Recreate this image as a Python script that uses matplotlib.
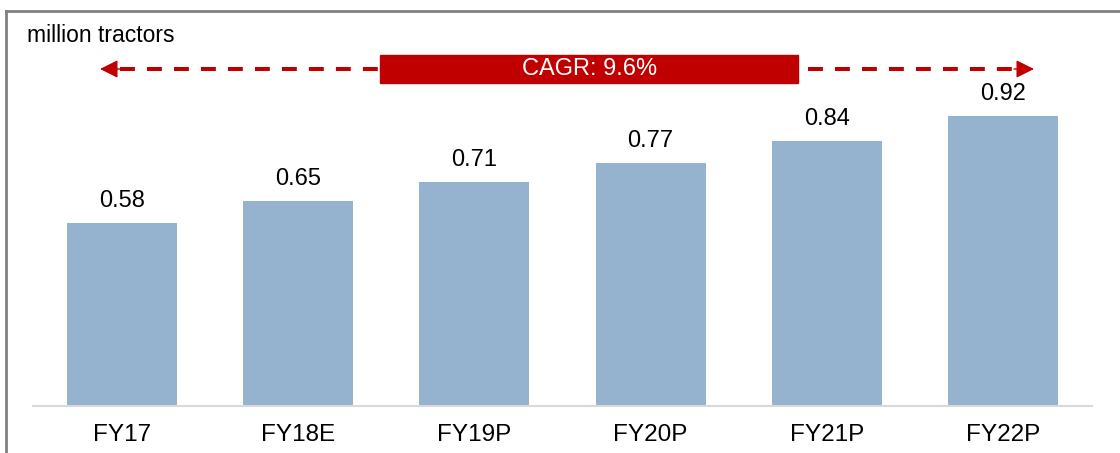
import matplotlib.pyplot as plt
from matplotlib.lines import Line2D

plt.rcParams["font.family"] = ["Liberation Sans", "DejaVu Sans"]

YEARS = ["FY17", "FY18E", "FY19P", "FY20P", "FY21P", "FY22P"]
SALES = [0.58, 0.65, 0.71, 0.77, 0.84, 0.92]
CAGR_LABEL = "CAGR: 9.6%"

BAR_COLOR = "#95B3CF"
RED = "#C00000"

W, H = 1120, 453
fig = plt.figure(figsize=(W / 100, H / 100), dpi=100)
ax = fig.add_axes([33 / W, 47 / H, 1059 / W, 395 / H])

x = range(len(YEARS))
bars = ax.bar(x, SALES, width=0.625, color=BAR_COLOR, zorder=2)
for b, v in zip(bars, SALES):
    ax.annotate(f"{v:.2f}", (b.get_x() + b.get_width() / 2, v),
                xytext=(0, 8), textcoords="offset points",
                ha="center", va="bottom", fontsize=17)

ax.set_xlim(-0.505, 5.505)
ax.set_ylim(0, 1.253)
ax.set_xticks(list(x))
ax.set_xticklabels(YEARS, fontsize=17.5)
ax.tick_params(axis="x", length=0, pad=13)
ax.set_yticks([])
for s in ["top", "right", "left"]:
    ax.spines[s].set_visible(False)
ax.spines["bottom"].set_color("#D9D9D9")
ax.spines["bottom"].set_linewidth(1.5)

# frame around the chart
fig.add_artist(Line2D([6 / W, 6 / W], [0, 1 - 11 / H], color="#808080", lw=2))
fig.add_artist(Line2D([6 / W, 1], [1 - 11 / H, 1 - 11 / H], color="#808080", lw=2))

fig.text(27 / W, 1 - 35 / H, "million tractors", fontsize=16.5, va="center", ha="left")

# CAGR arrow
yA = 1 - 69 / H
dash = dict(color=RED, lw=2.9, ls=(0, (3.7, 3)))
fig.add_artist(Line2D([120 / W, 378 / W], [yA, yA], **dash))
fig.add_artist(Line2D([808 / W, 1018 / W], [yA, yA], **dash))
head = dict(arrowstyle="-|>,head_length=0.5,head_width=0.25", color=RED, lw=1,
            mutation_scale=22, shrinkA=0, shrinkB=0)
ax.annotate("", xy=(100 / W, yA), xytext=(120 / W, yA), xycoords="figure fraction",
            arrowprops=head)
ax.annotate("", xy=(1034 / W, yA), xytext=(1014 / W, yA), xycoords="figure fraction",
            arrowprops=head)
fig.patches.append(plt.Rectangle((380 / W, 1 - 83 / H), 418 / W, 28 / H,
                                 transform=fig.transFigure, color=RED, zorder=3))
fig.text(590 / W, yA, CAGR_LABEL, color="white", fontsize=17, ha="center", va="center", zorder=4)

fig.savefig("out.png", dpi=100)
